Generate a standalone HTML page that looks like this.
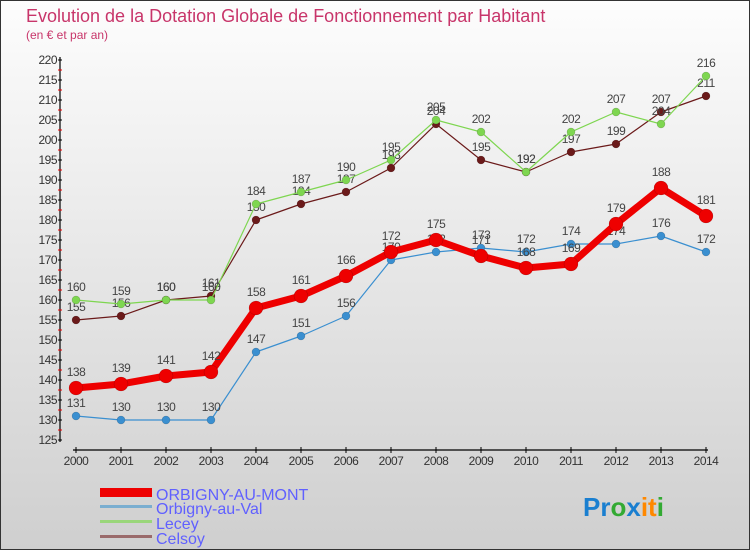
<!DOCTYPE html>
<html><head><meta charset="utf-8"><style>
body{margin:0;}
svg{display:block;font-family:"Liberation Sans",sans-serif;}
</style></head><body>
<svg width="750" height="550" xmlns="http://www.w3.org/2000/svg">
<defs><linearGradient id="bg" x1="0" y1="0" x2="0" y2="1"><stop offset="0" stop-color="#fdfdfd"/><stop offset="1" stop-color="#cfcfcf"/></linearGradient></defs>
<rect x="0.5" y="0.5" width="749" height="549" fill="url(#bg)" stroke="#333"/>
<text x="26" y="22" font-size="18" fill="#c8356a">Evolution de la Dotation Globale de Fonctionnement par Habitant</text>
<text x="26" y="39" font-size="12" fill="#c8356a">(en € et par an)</text>
<g id="axes"></g>
<g id="series"></g>
<g id="legend">
<rect x="100" y="488" width="52" height="9" fill="#e00"/>
<text x="156" y="500" font-size="16" fill="#6060ff">ORBIGNY-AU-MONT</text>
<rect x="100" y="505" width="52" height="3" fill="#7aaed0"/>
<text x="156" y="514" font-size="16" fill="#6060ff">Orbigny-au-Val</text>
<rect x="100" y="520" width="52" height="3" fill="#9ad67a"/>
<text x="156" y="529" font-size="16" fill="#6060ff">Lecey</text>
<rect x="100" y="535" width="52" height="3" fill="#9a6a6a"/>
<text x="156" y="544" font-size="16" fill="#6060ff">Celsoy</text>
</g>
<text x="583" y="516" font-size="26" font-weight="bold"><tspan fill="#1a7fd0">Pr</tspan><tspan fill="#3a3">o</tspan><tspan fill="#1a7fd0">x</tspan><tspan fill="#f80">it</tspan><tspan fill="#3a3">i</tspan></text>
</svg>
<script>
const years=[2000,2001,2002,2003,2004,2005,2006,2007,2008,2009,2010,2011,2012,2013,2014];
const yTicks=[125,130,135,140,145,150,155,160,165,170,175,180,185,190,195,200,205,210,215,220];
const orbignyMont=[138,139,141,142,158,161,166,172,175,171,168,169,179,188,181];
const orbignyVal=[131,130,130,130,147,151,156,170,172,173,172,174,174,176,172];
const lecey=[160,159,160,160,184,187,190,195,205,202,192,202,207,204,216];
const celsoy=[155,156,160,161,180,184,187,193,204,195,192,197,199,207,211];
const NS="http://www.w3.org/2000/svg";
function xs(i){return 76+i*45;}
function ys(v){return 60+(220-v)*4;}
function mk(tag,attrs,parent,txt){const e=document.createElementNS(NS,tag);for(const k in attrs)e.setAttribute(k,attrs[k]);if(txt!==undefined)e.textContent=txt;parent.appendChild(e);return e;}
const ax=document.getElementById('axes');
let l=mk('line',{x1:60,y1:57,x2:60,y2:442,stroke:'#000','stroke-width':1.2},ax);


yTicks.forEach(v=>{
 const t=mk('line',{x1:58,y1:ys(v),x2:62,y2:ys(v),stroke:'#000'},ax);
 
 
 if(v<220){const m=mk('line',{x1:58,y1:ys(v+2.5),x2:62,y2:ys(v+2.5),stroke:'#e00'},ax);
 
 }
 const lb=mk('text',{x:57,y:ys(v)+4,'font-size':12,fill:'#333','text-anchor':'end','letter-spacing':'-0.5'},ax,v);
 
 
});
l=mk('line',{x1:73,y1:450,x2:708,y2:450,stroke:'#000','stroke-width':1.2},ax);


years.forEach((y,i)=>{
 const t=mk('line',{x1:xs(i),y1:447,x2:xs(i),y2:453,stroke:'#000'},ax);
 
 
 const lb=mk('text',{x:xs(i),y:465,'font-size':12,fill:'#333','text-anchor':'middle','letter-spacing':'-0.5'},ax,y);
 
 
});
const sg=document.getElementById('series');
function draw(name,data,color,w,r){
 const g=mk('g',{},sg);
 
 
 const p=mk('polyline',{points:data.map((v,i)=>xs(i)+','+ys(v)).join(' '),fill:'none',stroke:color,'stroke-width':w,'stroke-linejoin':'round'},g);
 
 
 data.forEach((v,i)=>{
  const c=mk('circle',{cx:xs(i),cy:ys(v),r:r,fill:color,stroke:'rgba(0,0,0,0.25)','stroke-width':0.5},g);
  
  
  const t=mk('text',{x:xs(i),y:ys(v)-r-5,'font-size':12,fill:'#444','text-anchor':'middle','letter-spacing':'-0.5'},g,v);
  
  
 });
}
draw('celsoy',celsoy,'#6b1a1a',1.2,4);
draw('lecey',lecey,'#7ed650',1.2,4);
draw('orbigny-au-val',orbignyVal,'#3a8fd0',1.2,4);
draw('orbigny-au-mont',orbignyMont,'#ee0000',7,7);
</script>
</body></html>
